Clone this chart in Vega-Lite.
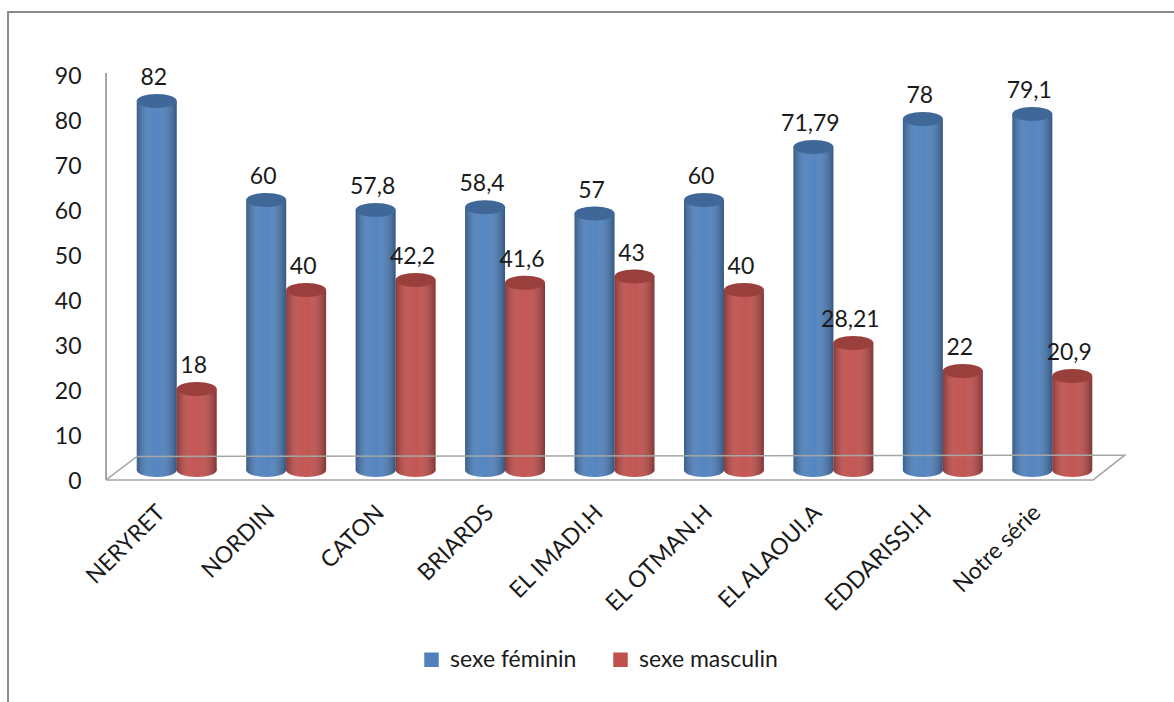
{
  "$schema": "https://vega.github.io/schema/vega-lite/v6.json",
  "width": 985,
  "height": 405,
  "autosize": {"type": "none"},
  "padding": {"left": 122, "top": 65, "right": 67, "bottom": 232},
  "config": {
    "view": {"stroke": null},
    "font": "Lato",
    "locale": {"number": {"decimal": ",", "thousands": " ", "grouping": [3], "currency": ["", " €"]}}
  },
  "datasets": {
    "rates": [
      {"serie": "NERYRET", "sexe": "sexe féminin", "pourcentage": 82},
      {"serie": "NERYRET", "sexe": "sexe masculin", "pourcentage": 18},
      {"serie": "NORDIN", "sexe": "sexe féminin", "pourcentage": 60},
      {"serie": "NORDIN", "sexe": "sexe masculin", "pourcentage": 40},
      {"serie": "CATON", "sexe": "sexe féminin", "pourcentage": 57.8},
      {"serie": "CATON", "sexe": "sexe masculin", "pourcentage": 42.2},
      {"serie": "BRIARDS", "sexe": "sexe féminin", "pourcentage": 58.4},
      {"serie": "BRIARDS", "sexe": "sexe masculin", "pourcentage": 41.6},
      {"serie": "EL IMADI.H", "sexe": "sexe féminin", "pourcentage": 57},
      {"serie": "EL IMADI.H", "sexe": "sexe masculin", "pourcentage": 43},
      {"serie": "EL OTMAN.H", "sexe": "sexe féminin", "pourcentage": 60},
      {"serie": "EL OTMAN.H", "sexe": "sexe masculin", "pourcentage": 40},
      {"serie": "EL ALAOUI.A", "sexe": "sexe féminin", "pourcentage": 71.79},
      {"serie": "EL ALAOUI.A", "sexe": "sexe masculin", "pourcentage": 28.21},
      {"serie": "EDDARISSI.H", "sexe": "sexe féminin", "pourcentage": 78},
      {"serie": "EDDARISSI.H", "sexe": "sexe masculin", "pourcentage": 22},
      {"serie": "Notre série", "sexe": "sexe féminin", "pourcentage": 79.1},
      {"serie": "Notre série", "sexe": "sexe masculin", "pourcentage": 20.9}
    ],
    "floor": [
      {"part": "axe", "k": 0, "fx": -0.0162, "fy": 88.2},
      {"part": "axe", "k": 1, "fx": -0.0162, "fy": -2.2},
      {"part": "sol", "k": 0, "fx": -0.0162, "fy": -2.2},
      {"part": "sol", "k": 1, "fx": 0.986, "fy": -2.2},
      {"part": "sol", "k": 2, "fx": 1.018, "fy": 3.3},
      {"part": "sol", "k": 3, "fx": 0.0152, "fy": 3.0},
      {"part": "sol", "k": 4, "fx": -0.0162, "fy": -2.2}
    ],
    "frame": [
      {"fx": -0.1157, "fx2": 1.2, "fy": 101.8, "fy2": -80}
    ]
  },
  "layer": [
    {
      "data": {"name": "rates"},
      "encoding": {
        "x": {
          "field": "serie", "type": "nominal", "sort": null,
          "scale": {"paddingInner": 0.27, "paddingOuter": 0.135},
          "axis": {
            "title": null, "domain": false, "ticks": false,
            "labelAngle": -45, "labelAlign": "right", "labelBaseline": "top",
            "labelFontSize": 23, "labelColor": "#1a1a1a", "labelPadding": 31,
            "labelOffset": -23
          }
        },
        "xOffset": {
          "field": "sexe", "type": "nominal",
          "sort": ["sexe féminin", "sexe masculin"],
          "scale": {"paddingInner": 0, "paddingOuter": 0}
        },
        "y": {
          "field": "pourcentage", "type": "quantitative",
          "scale": {"domain": [0, 90], "nice": false},
          "axis": {
            "title": null, "domain": false, "ticks": false, "grid": false,
            "values": [0, 10, 20, 30, 40, 50, 60, 70, 80, 90],
            "offset": 16, "labelPadding": 25, "labelOffset": 11,
            "labelFontSize": 23, "labelColor": "#1a1a1a"
          }
        }
      },
      "layer": [
        {
          "mark": {"type": "point", "filled": true, "opacity": 1, "size": 1600, "strokeWidth": 0,
                   "shape": "M-1,0A1,0.35,0,1,1,1,0A1,0.35,0,1,1,-1,0Z"},
          "encoding": {
            "y": {"datum": 0},
            "color": {
              "field": "sexe", "type": "nominal",
              "scale": {"domain": ["sexe féminin", "sexe masculin"], "range": ["#4f81bd", "#c0504d"]},
              "legend": {
                "title": null, "orient": "none", "direction": "horizontal",
                "legendX": 298, "legendY": 583, "padding": 0,
                "symbolType": "square", "symbolSize": 210, "symbolStrokeWidth": 0,
                "labelFontSize": 23, "labelColor": "#1a1a1a", "labelOffset": 7,
                "columnPadding": 32
              }
            }
          }
        },
        {
          "mark": {"type": "point", "filled": true, "opacity": 1, "size": 1600, "strokeWidth": 0,
                   "shape": "M-1,0A1,0.35,0,1,1,1,0A1,0.35,0,1,1,-1,0Z",
                   "fill": {"gradient": "linear", "x1": 0, "y1": 0, "x2": 1, "y2": 0,
                            "stops": [
                              {"offset": 0, "color": "rgba(0,0,0,0.28)"},
                              {"offset": 0.35, "color": "rgba(255,255,255,0.06)"},
                              {"offset": 0.55, "color": "rgba(255,255,255,0.04)"},
                              {"offset": 1, "color": "rgba(0,0,0,0.32)"}
                            ]}},
          "encoding": {"y": {"datum": 0}}
        },
        {
          "mark": {"type": "bar"},
          "encoding": {
            "color": {"field": "sexe", "type": "nominal"}
          }
        },
        {
          "mark": {"type": "bar",
                   "fill": {"gradient": "linear", "x1": 0, "y1": 0, "x2": 1, "y2": 0,
                            "stops": [
                              {"offset": 0, "color": "rgba(0,0,0,0.28)"},
                              {"offset": 0.35, "color": "rgba(255,255,255,0.06)"},
                              {"offset": 0.55, "color": "rgba(255,255,255,0.04)"},
                              {"offset": 1, "color": "rgba(0,0,0,0.32)"}
                            ]}}
        },
        {
          "mark": {"type": "point", "filled": true, "opacity": 1, "size": 1600, "strokeWidth": 0,
                   "shape": "M-1,0A1,0.35,0,1,1,1,0A1,0.35,0,1,1,-1,0Z"},
          "encoding": {
            "color": {"field": "sexe", "type": "nominal"}
          }
        },
        {
          "mark": {"type": "point", "filled": true, "opacity": 1, "size": 1600, "strokeWidth": 0,
                   "shape": "M-1,0A1,0.35,0,1,1,1,0A1,0.35,0,1,1,-1,0Z",
                   "fill": "rgba(0,0,0,0.2)"}
        },
        {
          "mark": {"type": "text", "baseline": "bottom", "dy": -11, "dx": -3, "fontSize": 23, "color": "#1a1a1a"},
          "encoding": {"text": {"field": "pourcentage", "type": "quantitative", "format": "~r"}}
        }
      ]
    },
    {
      "layer": [
        {
          "data": {"name": "frame"},
          "mark": {"type": "rect", "fillOpacity": 0, "stroke": "#8c8c8c", "strokeWidth": 2},
          "encoding": {
            "x": {"field": "fx", "type": "quantitative", "scale": {"domain": [0, 1], "nice": false, "zero": false}, "axis": null},
            "x2": {"field": "fx2"},
            "y": {"field": "fy", "type": "quantitative"},
            "y2": {"field": "fy2"}
          }
        },
        {
          "data": {"name": "floor"},
          "mark": {"type": "line", "strokeWidth": 1.5},
          "encoding": {
            "x": {"field": "fx", "type": "quantitative", "scale": {"domain": [0, 1], "nice": false, "zero": false}, "axis": null},
            "y": {"field": "fy", "type": "quantitative"},
            "order": {"field": "k"},
            "detail": {"field": "part"},
            "stroke": {
              "field": "part", "type": "nominal",
              "scale": {"domain": ["axe", "sol"], "range": ["#8a8a8a", "#a6a6a6"]},
              "legend": null
            }
          }
        }
      ]
    }
  ],
  "resolve": {"scale": {"x": "independent"}}
}
